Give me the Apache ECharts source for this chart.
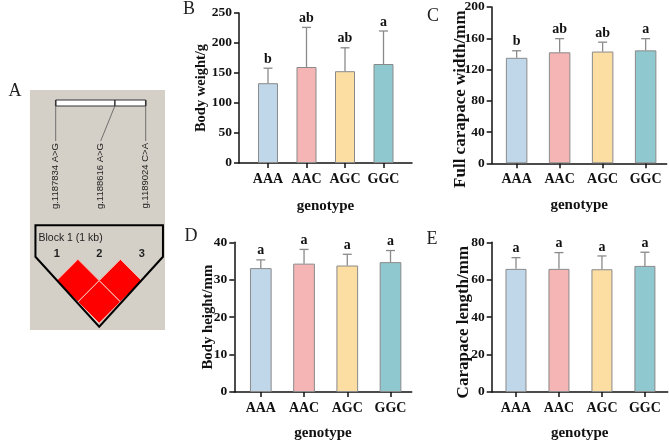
<!DOCTYPE html>
<html>
<head>
<meta charset="utf-8">
<script src="https://cdn.jsdelivr.net/npm/echarts@6/dist/echarts.min.js"></script>
<style>
html,body{margin:0;padding:0;background:#fff;}
#chart{width:669px;height:442px;}
</style>
</head>
<body>
<div id="chart"></div>
<script>
// ---------- data ----------
const categories = ['AAA', 'AAC', 'AGC', 'GGC'];
const weightMean = [133, 160, 153, 165];
const weightSD = [25, 66, 39, 55];
const weightLetters = ['b', 'ab', 'ab', 'a'];
const widthMean = [135, 142, 143, 144.5];
const widthSD = [9, 17.5, 12, 15];
const widthLetters = ['b', 'ab', 'ab', 'a'];
const heightMean = [33.1, 34.3, 33.8, 34.7];
const heightSD = [2.2, 3.8, 3.0, 3.1];
const heightLetters = ['a', 'a', 'a', 'a'];
const lengthMean = [65.8, 65.8, 65.6, 67.4];
const lengthSD = [6.0, 8.7, 7.1, 7.3];
const lengthLetters = ['a', 'a', 'a', 'a'];
const yTicksWeight = [0, 250, 50];
const yTicksWidth = [0, 200, 40];
const yTicksHeight = [0, 40, 10];
const yTicksLength = [0, 80, 20];
// haplotype block (panel A)
const snpPositions = [1187834, 1188616, 1189024];
const snpNames = ['g.1187834 A>G', 'g.1188616 A>G', 'g.1189024 C>A'];
const ldPairs = [[1, 2, 100], [2, 3, 100], [1, 3, 100]]; // marker i, marker j, D'
const blockMarkers = [1, 2, 3];
const blockName = 'Block 1 (1 kb)';

// ---------- style ----------
const barColors = ['#bfd7e9', '#f5b5b5', '#fcdea3', '#8fc8cf'];
const serif = '"Liberation Serif","Times New Roman",serif';
const sans = '"Liberation Sans",Arial,sans-serif';
const axisColor = '#111';

const chart = echarts.init(document.getElementById('chart'), null, {renderer: 'canvas'});

const grids = [];
const xAxes = [];
const yAxes = [];
const series = [];

// Panel A: gene map grid (0) and LD grid (1)
grids.push({left: 55.7, top: 100, width: 90, height: 6});
xAxes.push({gridIndex: 0, type: 'value', min: snpPositions[0], max: snpPositions[snpPositions.length - 1], show: false});
yAxes.push({gridIndex: 0, type: 'value', min: 0, max: 1, show: false});
grids.push({left: 35.45, top: 225.2, width: 127.5, height: 102.3});
xAxes.push({gridIndex: 1, type: 'value', min: 0.5, max: 3.5, show: false});
yAxes.push({gridIndex: 1, type: 'value', min: -1.6, max: 3.2, inverse: true, show: false});

const gMin = snpPositions[0], gMax = snpPositions[snpPositions.length - 1];
series.push({
  type: 'custom', xAxisIndex: 0, yAxisIndex: 0, clip: false, silent: true,
  data: snpPositions.map((p, i) => [p, i]),
  renderItem: function (params, api) {
    const pos = api.value(0), idx = api.value(1);
    const top = api.coord([pos, 1]), bot = api.coord([pos, 0]);
    const labX = api.coord([gMin + idx * (gMax - gMin) / (snpPositions.length - 1), 0])[0];
    const children = [];
    if (idx === 0) {
      const a = api.coord([gMin, 1]), b = api.coord([gMax, 0]);
      children.push({type: 'rect', shape: {x: a[0], y: a[1], width: b[0] - a[0], height: b[1] - a[1]},
        style: {fill: '#fff', stroke: '#333', lineWidth: 1}});
    }
    children.push({type: 'line', shape: {x1: top[0], y1: top[1], x2: bot[0], y2: bot[1]}, style: {stroke: '#333', lineWidth: 1.5}});
    children.push({type: 'line', shape: {x1: bot[0], y1: bot[1], x2: labX, y2: bot[1] + 35}, style: {stroke: '#555', lineWidth: 0.8}});
    children.push({type: 'text', x: labX, y: bot[1] + 37, rotation: Math.PI / 2,
      style: {text: snpNames[idx], x: 0, y: 0, align: 'right', verticalAlign: 'middle', font: '9.5px ' + sans, fill: '#222'}});
    return {type: 'group', children: children};
  }
});
// LD cells
series.push({
  type: 'custom', xAxisIndex: 1, yAxisIndex: 1, clip: false, silent: true, z: 3,
  data: ldPairs,
  renderItem: function (params, api) {
    const i = api.value(0), j = api.value(1), dp = api.value(2);
    const c = api.coord([(i + j) / 2, j - i]);
    const hw = api.size([0.5, 0])[0];
    const hh = api.size([0, 1])[1];
    const fill = dp >= 100 ? '#ff0000' : '#ff9090';
    return {type: 'polygon', shape: {points: [[c[0], c[1] - hh], [c[0] + hw, c[1]], [c[0], c[1] + hh], [c[0] - hw, c[1]]]},
      style: {fill: fill, stroke: '#f8c8c0', lineWidth: 1}};
  }
});
// block outline + marker numbers
series.push({
  type: 'custom', xAxisIndex: 1, yAxisIndex: 1, clip: false, silent: true, z: 4,
  data: [[blockMarkers[0], blockMarkers[blockMarkers.length - 1]]],
  renderItem: function (params, api) {
    const i = api.value(0), j = api.value(1);
    const pts = [[i - 0.5, -1.6], [j + 0.5, -1.6], [j + 0.5, -0.12], [(i + j) / 2, (j - i) + 1.165], [i - 0.5, -0.12]].map(p => api.coord(p));
    const children = [{type: 'polygon', shape: {points: pts}, style: {fill: 'none', stroke: '#000', lineWidth: 2}}];
    const t = api.coord([i - 0.5, -1.6]);
    children.push({type: 'text', style: {text: blockName, x: t[0] + 3, y: t[1] + 13, align: 'left', verticalAlign: 'middle', font: '10.5px ' + sans, fill: '#222'}});
    blockMarkers.forEach(m => {
      const p = api.coord([m, -0.25]);
      children.push({type: 'text', style: {text: String(m), x: p[0], y: p[1], align: 'center', verticalAlign: 'middle', font: 'bold 11px ' + sans, fill: '#222'}});
    });
    return {type: 'group', children: children};
  }
});

// ---------- bar panels ----------
function addPanel(spec) {
  const gi = grids.length;
  grids.push({left: spec.left, top: spec.top, width: spec.width, height: spec.height});
  xAxes.push({
    gridIndex: gi, type: 'value', min: spec.xmin, max: spec.xmax,
    name: 'genotype', nameLocation: 'middle', nameGap: spec.xNameGap, nameMoveOverlap: false,
    nameTextStyle: {fontFamily: serif, fontWeight: 'bold', fontSize: 15, color: '#111'},
    axisLine: {show: true, onZero: false, lineStyle: {color: axisColor, width: 1.5}},
    axisTick: {show: true, length: 5, customValues: [0, 1, 2, 3], lineStyle: {color: axisColor, width: 1.5}},
    axisLabel: {customValues: [0, 1, 2, 3], margin: 9, formatter: v => categories[Math.round(v)],
      fontFamily: serif, fontWeight: 'bold', fontSize: 14, color: '#111'},
    splitLine: {show: false}
  });
  yAxes.push({
    gridIndex: gi, type: 'value', min: spec.yTicks[0], max: spec.yTicks[1], interval: spec.yTicks[2],
    name: spec.yName, nameLocation: 'middle', nameGap: spec.yNameGap, nameRotate: 90, nameMoveOverlap: false,
    nameTextStyle: {fontFamily: serif, fontWeight: 'bold', fontSize: spec.yNameSize, color: '#111',
      padding: spec.yNamePad || 0},
    axisLine: {show: true, onZero: false, lineStyle: {color: axisColor, width: 1.5}},
    axisTick: {show: true, length: 5, lineStyle: {color: axisColor, width: 1.5}},
    axisLabel: {margin: 7, fontFamily: serif, fontWeight: 'bold', fontSize: 13.5, color: '#111'},
    splitLine: {show: false}
  });
  series.push({
    type: 'bar', xAxisIndex: gi, yAxisIndex: gi, barWidth: spec.barWidth, silent: true,
    data: spec.mean.map((v, i) => ({value: [i, v], itemStyle: {color: barColors[i], borderColor: '#8a8a8a', borderWidth: 1}}))
  });
  const letters = spec.letters;
  series.push({
    type: 'custom', xAxisIndex: gi, yAxisIndex: gi, clip: false, silent: true, z: 5,
    data: spec.mean.map((v, i) => [i, v, v + spec.sd[i]]),
    renderItem: function (params, api) {
      const x = api.value(0);
      const p0 = api.coord([x, api.value(1)]), p1 = api.coord([x, api.value(2)]);
      return {type: 'group', children: [
        {type: 'line', shape: {x1: p0[0], y1: p0[1], x2: p1[0], y2: p1[1]}, style: {stroke: '#8a8a8a', lineWidth: 1.3}},
        {type: 'line', shape: {x1: p1[0] - 4.5, y1: p1[1], x2: p1[0] + 4.5, y2: p1[1]}, style: {stroke: '#8a8a8a', lineWidth: 1.3}},
        {type: 'text', style: {text: letters[params.dataIndex], x: p1[0], y: p1[1] - 2, align: 'center', verticalAlign: 'bottom',
          font: 'bold 14px ' + serif, fill: '#111'}}
      ]};
    }
  });
}

addPanel({left: 239, top: 13, width: 173, height: 150, xmin: -0.753, xmax: 3.74, barWidth: 20,
  yTicks: yTicksWeight, yName: 'Body weight/g', yNameGap: 30, yNameSize: 14.5, xNameGap: 36,
  mean: weightMean, sd: weightSD, letters: weightLetters});
addPanel({left: 491.7, top: 6.7, width: 175, height: 156.6, xmin: -0.58, xmax: 3.49, barWidth: 21.5,
  yTicks: yTicksWidth, yName: 'Full carapace width/mm', yNameGap: 23, yNameSize: 17, yNamePad: [0, 28, 0, 0], xNameGap: 34,
  mean: widthMean, sd: widthSD, letters: widthLetters});
addPanel({left: 234.3, top: 242.3, width: 177.4, height: 150, xmin: -0.613, xmax: 3.49, barWidth: 21.7,
  yTicks: yTicksHeight, yName: 'Body height/mm', yNameGap: 19, yNameSize: 14.8, xNameGap: 34,
  mean: heightMean, sd: heightSD, letters: heightLetters});
addPanel({left: 491.7, top: 242.3, width: 176, height: 150, xmin: -0.565, xmax: 3.53, barWidth: 21,
  yTicks: yTicksLength, yName: 'Carapace length/mm', yNameGap: 20, yNameSize: 17, yNamePad: [0, 10, 0, 0], xNameGap: 34,
  mean: lengthMean, sd: lengthSD, letters: lengthLetters});

const panelLetter = (t, x, y) => ({type: 'text', x: x, y: y, style: {text: t, align: 'center', verticalAlign: 'middle',
  font: '18px ' + serif, fill: '#222'}});

chart.setOption({
  animation: false,
  backgroundColor: '#fff',
  graphic: [
    {type: 'rect', shape: {x: 30, y: 90, width: 135, height: 240}, style: {fill: '#d4d0c8'}, z: -10},
    panelLetter('A', 15, 91),
    panelLetter('B', 189, 9),
    panelLetter('C', 433, 16),
    panelLetter('D', 191, 236),
    panelLetter('E', 432, 239)
  ],
  grid: grids,
  xAxis: xAxes,
  yAxis: yAxes,
  series: series
});
</script>
</body>
</html>
